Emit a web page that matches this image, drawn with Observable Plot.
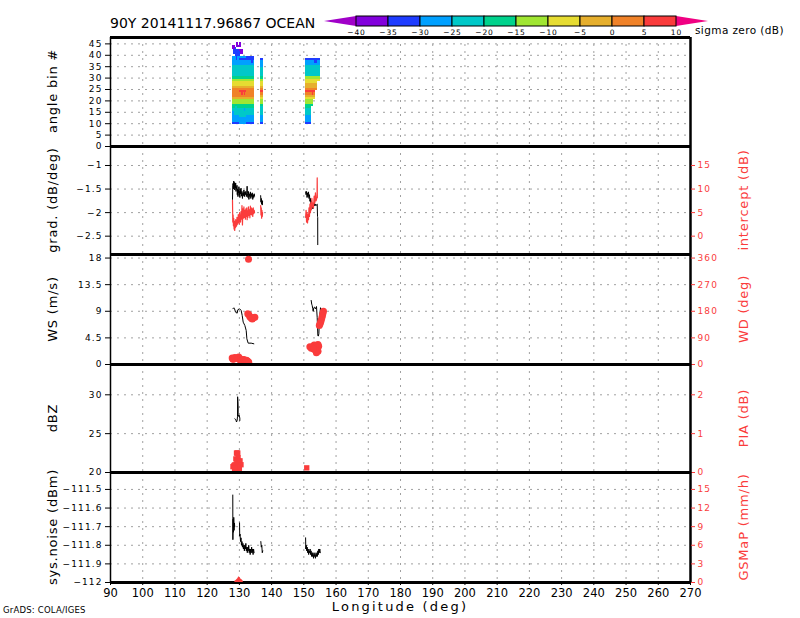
<!DOCTYPE html>
<html><head><meta charset="utf-8">
<script src="https://cdn.jsdelivr.net/npm/d3@7"></script>
<script src="https://cdn.jsdelivr.net/npm/@observablehq/plot@0.6"></script>
<style>
body{margin:0;background:#fff;}
#wrap{position:relative;width:800px;height:618px;overflow:hidden;background:#fff;}
#wrap svg{position:absolute;left:0;}
.yax text{letter-spacing:1.1px;}
</style></head><body><div id="wrap"></div>
<script>
// ---------------- data ----------------
const lonTicks = [90,100,110,120,130,140,150,160,170,180,190,200,210,220,230,240,250,260,270];
const lonDomain = [90, 270];
const sigmaBreaks = [-40,-35,-30,-25,-20,-15,-10,-5,0,5,10];
const sigmaColors = ["#a000c8","#8200dc","#1e3cff","#00a0ff","#00c8c8","#00d28c","#a0e632","#e6dc32","#e6af2d","#f08228","#fa3c3c","#f00082"];

// panel 1: sigma zero by angle bin
const angleTicks = [0,5,10,15,20,25,30,35,40,45];
const angleBins = [10,11,12,13,14,15,16,17,18,19,20,21,22,23,24,25,26,27,28,29,30,31,32,33,34,35,36,37,38,39];
const segA1 = [127.86, 129.9];
const segA2 = [129.9, 132.2];
const segA3 = [132.2, 134.69];
const segB  = [136.55, 137.4];
const segCLeft = 150.52;
const sigmaA1 = [-31,-28,-27,-26,-24,-23,-22,-19,-17,-13,-12,-4,1,3,3,2,-2,-7,-8,-12,-18,-21,-22,-23,-24,-25,-26,-27,-28,-27];
const sigmaA2 = [-28,-27,-26,-24,-23,-22,-21,-18,-16,-12,-11,-3,2,4,6,3,-1,-6,-8,-11,-17,-21,-22,-23,-23,-24,-26,-27,-31,-28];
const sigmaA3 = [-32,-28,-27,-26,-24,-23,-22,-19,-16,-13,-12,-4,1,3,4,2,-2,-7,-9,-13,-18,-21,-22,-23,-24,-25,-27,-28,-31,-32];
const sigmaB  = [-32,-28,-27,-26,-25,-24,-23,-21,-18,-14,-11,-6,-1,3,6,3,-1,-6,-9,-13,-18,-22,-23,-24,-25,-26,-27,-29,-32,null];
const sigmaC  = [-31,-28,-27,-26,-24,-23,-22,-20,-17,-13,-11,-7,-2,2,6,3,-1,-4,-6,-8,-12,-21,-22,-23,-24,-25,-26,-28,-32,null];
const segCRight = [152.5,152.5,152.5,152.5,152.5,152.5,152.5,152.5,153.0,153.0,153.0,153.7,153.7,153.7,153.7,154.3,154.3,154.3,154.3,155.05,155.05,155.05,155.05,155.05,155.05,155.05,155.05,155.05,155.05,null];
// extra cells (streaks, spots, far-angle patch): [lon1, lon2, bin, sigma]
const extraCells = [
  [127.86,128.7,44,-37],[127.86,128.7,43,-38],[129.0,129.6,45,-37],[129.0,129.6,44,-38],[129.6,130.7,44,-36],
  [130.0,130.6,45,-37],[130.0,131.3,42,-37],[130.4,131.3,41,-38],[128.3,130.0,42,-33],[128.3,130.4,41,-32],
  [128.9,130.4,40,-31],[128.7,129.0,43,-32],
  [129.0,129.4,38,-32],[129.0,129.4,39,-32],[130.9,131.3,38,-31],[132.4,132.8,39,-33],[133.6,134.0,38,-31],[133.9,134.3,37,-32],
  [127.86,128.6,14,-26],[127.86,128.6,15,-26],[127.86,128.4,16,-25],[128.9,129.3,17,-24],[131.6,132.0,16,-26],
  [130.6,131.2,24,7],[131.5,132.0,23,6],[130.8,131.2,23,6],[152.9,153.5,24,7],[152.6,153.1,23,6],
  [153.4,154.2,37,-32],[153.8,154.6,38,-33],[152.7,153.1,38,-31]
];

// panel 2: gradient (left) and intercept (right)
const gradTicks = [-2.5,-2,-1.5,-1];
const gradDomain = [-2.889, -0.597];
const interceptTicks = [0,5,10,15];
const interceptDomain = [-3.89, 19.03];
const lonA = [127.86,127.95,128.05,128.15,128.25,128.35,128.45,128.55,128.65,128.75,128.85,128.95,129.05,129.15,129.25,129.35,129.45,129.55,129.65,129.75,129.85,129.95,130.05,130.15,130.25,130.35,130.5,130.65,130.8,130.95,131.1,131.25,131.4,131.55,131.7,131.85,132.0,132.15,132.3,132.4,132.5,132.65,132.8,132.95,133.1,133.25,133.4,133.55,133.7,133.85,134.0,134.15,134.3,134.45,134.6,134.7];
const gradA = [-1.72,-1.42,-1.38,-1.50,-1.33,-1.45,-1.36,-1.52,-1.40,-1.48,-1.37,-1.55,-1.45,-1.50,-1.42,-1.62,-1.50,-1.66,-1.52,-1.58,-1.45,-1.63,-1.55,-1.68,-1.50,-1.60,-1.48,-1.65,-1.55,-1.70,-1.58,-1.64,-1.52,-1.66,-1.56,-1.62,-1.55,-1.66,-1.58,-1.44,-1.60,-1.68,-1.55,-1.72,-1.60,-1.66,-1.56,-1.70,-1.60,-1.66,-1.58,-1.72,-1.62,-1.68,-1.60,-1.65];
const interceptA = [7.6,3.0,4.5,2.2,3.8,1.5,3.2,1.2,2.8,1.8,3.5,2.0,3.0,2.2,4.0,2.5,3.8,2.8,4.6,3.0,4.2,2.6,5.0,3.2,4.4,3.0,5.2,3.6,6.5,2.4,5.8,3.8,6.2,4.0,5.5,3.6,5.8,4.2,6.0,3.5,5.4,4.0,6.2,4.4,5.6,3.9,6.4,4.6,6.0,4.5,5.8,4.2,6.0,4.8,5.5,5.0];
const lonB = [136.6,136.7,136.8,136.9,137.0,137.1,137.2];
const gradB = [-1.64,-1.78,-1.70,-1.82,-1.74,-1.84,-1.76];
const interceptB = [6.5,4.5,6.0,3.8,5.5,4.2,5.0];
const gradLonC = [150.55,150.7,150.85,151.0,151.15,151.3,151.45,151.6,151.75,151.9,152.05,152.2,152.35,152.5,152.65,152.8,153.0,153.2,153.4,153.6,153.8,154.0,154.15,154.25,154.3,154.32];
const gradC = [-1.56,-1.62,-1.55,-1.68,-1.58,-1.66,-1.56,-1.70,-1.62,-1.76,-1.70,-1.82,-1.75,-1.88,-1.80,-1.92,-1.84,-1.80,-1.86,-1.82,-1.85,-1.83,-1.82,-2.08,-2.10,-2.68];
const interceptLonC = [150.55,150.7,150.85,151.0,151.15,151.3,151.45,151.6,151.75,151.9,152.05,152.2,152.35,152.5,152.65,152.8,153.0,153.2,153.4,153.6,153.8,154.0,154.1,154.15,154.2];
const interceptC = [4.0,5.5,3.0,5.0,2.8,4.6,3.5,6.0,4.2,6.8,5.0,7.2,5.6,8.0,6.2,7.0,6.0,8.5,7.0,9.2,7.5,8.0,8.3,12.4,8.2];

// panel 3: wind speed (left) and wind direction (right)
const wsTicks = [0,4.5,9,13.5,18];
const wsDomain = [0, 18.6];
const wdTicks = [0,90,180,270,360];
const wdDomain = [0, 372];
const wsLonA = [127.97,128.28,128.5,128.8,129.31,129.52,130.04,130.55,130.87,131.18,131.69,132.11,132.32,132.73,133.66,134.48];
const wsA = [9.42,9.59,9.42,8.85,8.68,9.25,9.42,9.14,8.29,7.16,6.60,5.75,4.34,3.61,3.61,3.50];
const wsLonC = [152.28,152.45,152.59,152.75,152.9,153.1,153.31,153.62,153.93,154.14,154.35,154.5,154.66,154.87,155.18,155.4];
const wsC = [10.83,10.2,9.98,9.5,9.0,9.6,9.7,9.4,9.8,7.98,4.9,4.8,5.2,8.0,9.6,9.2];
const wdLon = [132.83,132.6,132.9,133.2,133.45,133.7,134.0,134.3,134.8,
  127.76,128.0,128.28,128.6,129.1,129.5,129.8,130.1,130.35,130.6,130.87,131.1,131.4,131.7,131.9,132.2,132.4,132.7,132.9,
  156.1,155.9,155.75,155.6,155.4,155.2,155.0,154.8,
  151.87,152.3,152.6,152.9,153.2,153.5,153.8,154.1,154.4,154.6,154.4,154.2,153.9,153.6,153.0];
const wdDeg = [356,172,169,162,160,156,154,157,160,
  22,18,19,24,22,20,25,16,19,15,13,16,17,12,11,14,13,10,8,
  180,172,165,158,150,143,137,132,
  60,55,58,62,66,60,57,65,68,62,45,50,40,48,52];

// panel 4: reflectivity (left) and PIA (right)
const dbzTicks = [20,25,30];
const dbzDomain = [20, 33.9];
const piaTicks = [0,1,2];
const piaDomain = [0, 2.78];
const dbzLon = [128.59,128.9,129.1,129.3,129.42,129.45,129.55,129.62,129.6,129.9,130.14,130.14];
const dbz = [26.9,26.8,26.5,26.7,27.2,29.75,29.1,28.3,27.2,27.4,27.0,26.7];
const piaLon = [128.0,128.3,128.6,128.9,129.1,129.3,129.5,129.2,129.6,129.8,130.0,130.2,130.5,129.0,129.5,130.0,128.5,150.9];
const pia = [0.15,0.18,0.2,0.35,0.5,0.5,0.5,0.3,0.38,0.3,0.25,0.3,0.2,0.14,0.12,0.1,0.1,0.12];

// panel 5: system noise (left) and GSMaP (right)
const noiseTicks = [-112,-111.9,-111.8,-111.7,-111.6,-111.5];
const noiseDomain = [-112, -111.409];
const gsmapTicks = [0,3,6,9,12,15];
const gsmapDomain = [0, 17.73];
const noiseLonA = [127.95,127.98,128.05,128.15,128.25,128.35,128.45,128.55,128.6,130.05,130.1,130.2,130.35,130.5,130.65,130.8,130.95,131.1,131.25,131.4,131.55,131.7,131.85,132.0,132.15,132.3,132.45,132.6,132.75,132.9,133.05,133.2,133.35,133.5,133.65,133.8,133.95,134.1,134.25,134.4,134.55];
const noiseA = [-111.53,-111.77,-111.66,-111.73,-111.65,-111.72,-111.68,-111.70,null,-111.68,-111.75,-111.74,-111.78,-111.76,-111.80,-111.78,-111.81,-111.79,-111.82,-111.80,-111.83,-111.80,-111.82,-111.79,-111.83,-111.81,-111.84,-111.81,-111.83,-111.80,-111.84,-111.82,-111.85,-111.82,-111.84,-111.81,-111.84,-111.82,-111.85,-111.82,-111.84];
const noiseLonB = [136.65,136.8,136.95,137.1,137.25];
const noiseB = [-111.78,-111.81,-111.80,-111.84,-111.83];
const noiseLonC = [150.55,150.6,150.75,150.9,151.05,151.2,151.35,151.5,151.65,151.8,151.95,152.1,152.25,152.4,152.55,152.7,152.85,153.0,153.15,153.3,153.45,153.6,153.75,153.9,154.05,154.2,154.35,154.5,154.65,154.8,154.95,155.1];
const noiseC = [-111.76,-111.82,-111.80,-111.83,-111.81,-111.84,-111.82,-111.85,-111.83,-111.84,-111.82,-111.85,-111.83,-111.86,-111.84,-111.86,-111.84,-111.87,-111.85,-111.86,-111.84,-111.87,-111.85,-111.86,-111.84,-111.86,-111.83,-111.85,-111.82,-111.84,-111.82,-111.84];
const gsmapLon = [128.6,128.9,129.2,129.5,129.8,130.0,130.3,130.6,130.9,131.2];
const gsmap = [0.2,0.3,0.45,0.6,0.9,0.9,0.7,0.5,0.4,0.2];

// ---------------- drawing ----------------
const wrap = document.getElementById("wrap");
const FONT = "'DejaVu Sans', sans-serif";
const RED = "#fa3c3c";
const gridStyle = {stroke: "#a0a0a0", strokeDasharray: "2,5", strokeWidth: 1};
const fmt = d => String(d).replace("-", "\u2212");
const pts = (xs, ys) => xs.map((x, i) => ({x, y: ys[i]}));
const colorScale = {type: "threshold", domain: sigmaBreaks, range: sigmaColors};

function place(svg, top) {
  svg.style.top = top + "px";
  wrap.appendChild(svg);
}

function leftPlot({top, h, domain, ticks, marks, xAxis = false}) {
  const mt = 12, mb = xAxis ? 32 : 12;
  const svg = Plot.plot({
    width: 800, height: h + mt + mb,
    marginLeft: 110, marginRight: 110, marginTop: mt, marginBottom: mb,
    style: {background: "transparent", overflow: "visible", fontFamily: FONT, fontSize: "9px", color: "black"},
    x: {domain: lonDomain, axis: xAxis ? "bottom" : null, ticks: lonTicks, tickSize: 3, tickPadding: 3, tickFormat: d => String(d), label: null},
    y: {domain, ticks, tickSize: 5, tickPadding: 3, tickFormat: fmt, label: null},
    color: colorScale,
    marks: [
      Plot.ruleX(lonTicks.slice(1, -1), gridStyle),
      Plot.ruleY(ticks.filter(t => t > domain[0] && t < domain[1]), gridStyle),
      ...marks,
      Plot.ruleX([lonDomain[0]], {stroke: "black", strokeWidth: 1.5}),
      Plot.ruleX([lonDomain[1]], {stroke: "black", strokeWidth: 2.5}),
      Plot.ruleY([domain[1]], {stroke: "black", strokeWidth: 3}),
      ...(xAxis ? [Plot.ruleY([domain[0]], {stroke: "black", strokeWidth: 3})] : [])
    ]
  });
  svg.classList.add("yax");
  if (xAxis) {
    // x-axis tick labels are larger and unspaced
    svg.querySelectorAll("[aria-label='x-axis'] text, [aria-label='x-axis tick label'] text").forEach(t => {
      t.style.fontSize = "11.5px"; t.style.letterSpacing = "0px";
    });
  }
  place(svg, top - mt);
}

function rightPlot({top, h, domain, ticks, marks}) {
  const mt = 12, mb = 12;
  const svg = Plot.plot({
    width: 800, height: h + mt + mb,
    marginLeft: 110, marginRight: 110, marginTop: mt, marginBottom: mb,
    style: {background: "transparent", overflow: "visible", fontFamily: FONT, fontSize: "9px", color: RED},
    x: {domain: lonDomain, axis: null},
    y: {domain, ticks, axis: "right", tickSize: 4, tickPadding: 3, tickFormat: fmt, label: null},
    marks
  });
  svg.classList.add("yax");
  place(svg, top - mt);
}

// panel 1 cells
const cells = [];
const addBlock = (seg, prof) => prof.forEach((s, i) => { if (s != null) cells.push({lon1: seg[0], lon2: seg[1], bin: angleBins[i], sigma: s}); });
addBlock(segA1, sigmaA1);
addBlock(segA2, sigmaA2);
addBlock(segA3, sigmaA3);
addBlock(segB, sigmaB);
sigmaC.forEach((s, i) => { if (s != null) cells.push({lon1: segCLeft, lon2: segCRight[i], bin: angleBins[i], sigma: s}); });
extraCells.forEach(([l1, l2, b, s]) => cells.push({lon1: l1, lon2: l2, bin: b, sigma: s}));

leftPlot({top: 37, h: 109, domain: [0, 47.8], ticks: angleTicks, marks: [
  Plot.rect(cells, {x1: "lon1", x2: "lon2", y1: d => d.bin - 0.5, y2: d => d.bin + 0.5, fill: "sigma", shapeRendering: "crispEdges"})
]});

// panel 2
leftPlot({top: 146, h: 108, domain: gradDomain, ticks: gradTicks, marks: [
  Plot.line(pts(lonA, gradA), {x: "x", y: "y", stroke: "black", strokeWidth: 1}),
  Plot.line(pts(lonB, gradB), {x: "x", y: "y", stroke: "black", strokeWidth: 1}),
  Plot.line(pts(gradLonC, gradC), {x: "x", y: "y", stroke: "black", strokeWidth: 1})
]});
rightPlot({top: 146, h: 108, domain: interceptDomain, ticks: interceptTicks, marks: [
  Plot.line(pts(lonA, interceptA), {x: "x", y: "y", stroke: RED, strokeWidth: 1.2}),
  Plot.line(pts(lonB, interceptB), {x: "x", y: "y", stroke: RED, strokeWidth: 1.2}),
  Plot.line(pts(interceptLonC, interceptC), {x: "x", y: "y", stroke: RED, strokeWidth: 1.2})
]});

// panel 3
leftPlot({top: 254, h: 110, domain: wsDomain, ticks: wsTicks, marks: [
  Plot.line(pts(wsLonA, wsA), {x: "x", y: "y", stroke: "black", strokeWidth: 1}),
  Plot.line(pts(wsLonC, wsC), {x: "x", y: "y", stroke: "black", strokeWidth: 1})
]});
rightPlot({top: 254, h: 110, domain: wdDomain, ticks: wdTicks, marks: [
  Plot.dot(pts(wdLon, wdDeg), {x: "x", y: "y", r: 3.5, fill: RED, stroke: null})
]});

// panel 4
leftPlot({top: 364, h: 108, domain: dbzDomain, ticks: dbzTicks, marks: [
  Plot.line(pts(dbzLon, dbz), {x: "x", y: "y", stroke: "black", strokeWidth: 1})
]});
rightPlot({top: 364, h: 108, domain: piaDomain, ticks: piaTicks, marks: [
  Plot.dot(pts(piaLon, pia), {x: "x", y: "y", r: 3, symbol: "square", fill: RED, stroke: null})
]});

// panel 5
leftPlot({top: 472, h: 110, domain: noiseDomain, ticks: noiseTicks, xAxis: true, marks: [
  Plot.line(pts(noiseLonA, noiseA), {x: "x", y: "y", stroke: "black", strokeWidth: 1}),
  Plot.line(pts(noiseLonB, noiseB), {x: "x", y: "y", stroke: "black", strokeWidth: 1}),
  Plot.line(pts(noiseLonC, noiseC), {x: "x", y: "y", stroke: "black", strokeWidth: 1})
]});
rightPlot({top: 472, h: 110, domain: gsmapDomain, ticks: gsmapTicks, marks: [
  Plot.areaY(pts(gsmapLon, gsmap), {x: "x", y: "y", fill: RED})
]});

// colour bar
const cbBoxes = sigmaBreaks.slice(0, -1).map((lo, i) => ({lo, hi: sigmaBreaks[i + 1]}));
const cb = Plot.plot({
  width: 800, height: 40, marginLeft: 324, marginRight: 92, marginTop: 16, marginBottom: 14,
  style: {background: "transparent", overflow: "visible", fontFamily: FONT, fontSize: "7.5px", color: "black", letterSpacing: "0.9px"},
  x: {domain: [-45, 15], ticks: sigmaBreaks, tickSize: 0, tickPadding: 3, tickFormat: fmt, label: null},
  y: {domain: [0, 1], axis: null},
  color: colorScale,
  marks: [
    Plot.areaY([{x: -45, a: 0.5, b: 0.5}, {x: -40, a: 0, b: 1}], {x: "x", y1: "a", y2: "b", fill: sigmaColors[0]}),
    Plot.areaY([{x: 10, a: 0, b: 1}, {x: 15, a: 0.5, b: 0.5}], {x: "x", y1: "a", y2: "b", fill: sigmaColors[11]}),
    Plot.rect(cbBoxes, {x1: "lo", x2: "hi", y1: 0, y2: 1, fill: "lo", stroke: "black", strokeWidth: 1})
  ]
});
place(cb, 0);

// text overlay
const ov = d3.create("svg").attr("width", 800).attr("height", 618)
  .style("top", "0px").style("pointer-events", "none").style("font-family", FONT);
ov.append("text").attr("x", 110).attr("y", 28).attr("font-size", 14).text("90Y 20141117.96867 OCEAN");
ov.append("text").attr("x", 695).attr("y", 34).attr("font-size", 10.5).attr("letter-spacing", "0.4px").text("sigma zero (dB)");
ov.append("text").attr("x", 400).attr("y", 611).attr("font-size", 13).attr("text-anchor", "middle")
  .attr("letter-spacing", "2.2px").text("Longitude (deg)");
ov.append("text").attr("x", 3).attr("y", 613).attr("font-size", 8.5).attr("letter-spacing", "0.2px").text("GrADS: COLA/IGES");
const leftLabels = [["angle bin #", 91], ["grad. (dB/deg)", 200], ["WS (m/s)", 309], ["dBZ", 418], ["sys.noise (dBm)", 527]];
const rightLabels = [["intercept (dB)", 200], ["WD (deg)", 309], ["PIA (dB)", 418], ["GSMaP (mm/h)", 527]];
leftLabels.forEach(([t, cy]) => ov.append("text").attr("transform", `translate(52,${cy}) rotate(-90)`)
  .attr("text-anchor", "middle").attr("dominant-baseline", "central").attr("font-size", 13)
  .attr("letter-spacing", "0.8px").text(t));
rightLabels.forEach(([t, cy]) => ov.append("text").attr("transform", `translate(743,${cy}) rotate(-90)`)
  .attr("text-anchor", "middle").attr("dominant-baseline", "central").attr("font-size", 13)
  .attr("letter-spacing", "0.8px").attr("fill", RED).text(t));
wrap.appendChild(ov.node());
</script></body></html>
